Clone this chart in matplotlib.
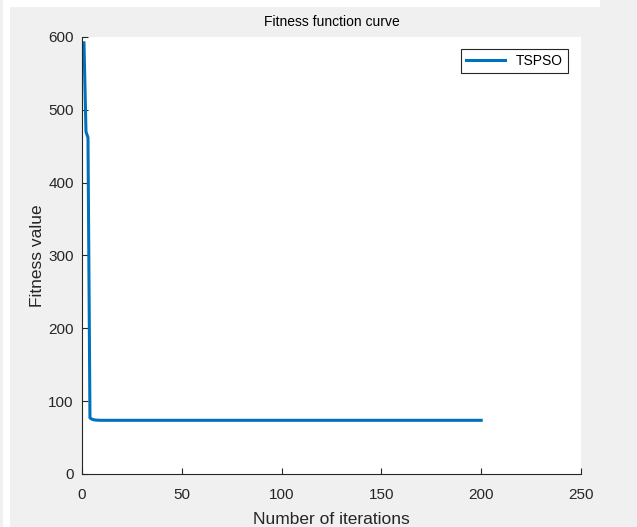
import matplotlib.pyplot as plt
from matplotlib.patches import Rectangle

plt.rcParams['font.family'] = ['Liberation Sans', 'DejaVu Sans']

# fitness value per iteration
early = [592, 470, 462, 77, 75.2, 74.4, 74.0, 73.8]
tail = [73.7] * 192
fitness = early + tail
iterations = list(range(1, len(fitness) + 1))

fig = plt.figure(figsize=(6.37, 5.27), dpi=100, facecolor='#f0f0f0')
# white screenshot border strips on the left and top
fig.patches.append(Rectangle((3 / 637, 0), 7 / 637, 1, transform=fig.transFigure,
                             facecolor='white', edgecolor='none', zorder=0))
fig.patches.append(Rectangle((3 / 637, 1 - 7 / 527), 597 / 637, 7 / 527, transform=fig.transFigure,
                             facecolor='white', edgecolor='none', zorder=0))

ax = fig.add_axes([0.1287, 0.1006, 0.7834, 0.8292])
ax.plot(iterations, fitness, color='#0072BD', linewidth=2.2, label='TSPSO')

ax.set_xlim(0, 250)
ax.set_ylim(0, 600)
ax.set_xticks([0, 50, 100, 150, 200, 250])
ax.set_yticks([0, 100, 200, 300, 400, 500, 600])
ax.spines['top'].set_visible(False)
ax.spines['right'].set_visible(False)
for s in ['left', 'bottom']:
    ax.spines[s].set_color('#262626')
    ax.spines[s].set_linewidth(0.8)
ax.tick_params(direction='in', length=4, width=0.8, colors='#262626', labelsize=11)
ax.tick_params(axis='x', pad=10)
ax.tick_params(axis='y', pad=6)

ax.set_title('Fitness function curve', fontsize=10, color='#000000', pad=8)
ax.set_xlabel('Number of iterations', fontsize=12.5, color='#262626', labelpad=7)
ax.set_ylabel('Fitness value', fontsize=12.5, color='#262626', labelpad=2.5)

leg = ax.legend(loc='upper right', fontsize=10, fancybox=False, framealpha=1,
                edgecolor='#262626', handlelength=2.8, borderpad=0.35,
                borderaxespad=0, bbox_to_anchor=(0.974, 0.9725))
leg.get_frame().set_linewidth(0.8)

fig.savefig('out.png', dpi=100, facecolor=fig.get_facecolor())
